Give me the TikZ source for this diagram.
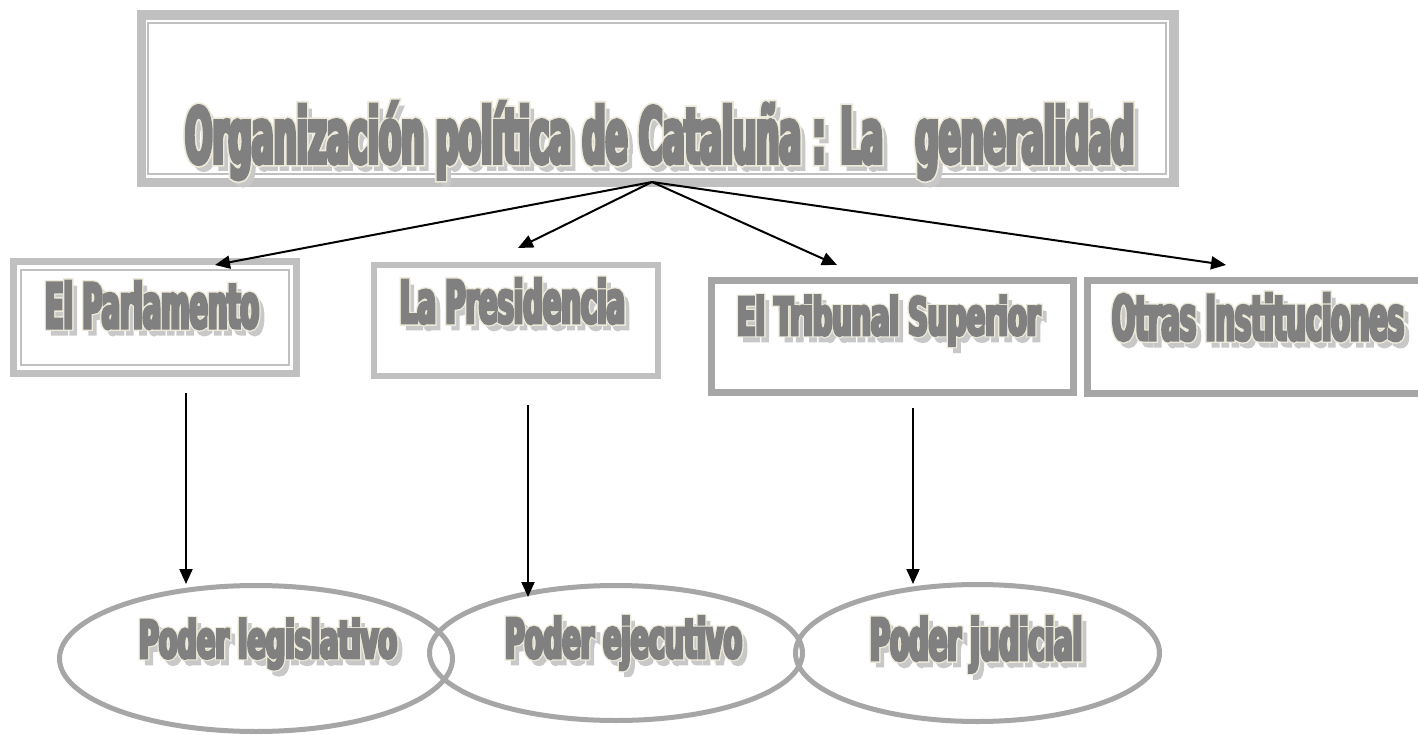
\documentclass[tikz,border=0pt]{standalone}
\usepackage{fontspec}
\setmainfont{Liberation Sans}
\newfontfamily\waMain[FakeStretch=0.45,FakeBold=5]{DejaVu Sans Bold}
\newfontfamily\waLine[FakeStretch=0.45,FakeBold=9.5]{DejaVu Sans Bold}
\usetikzlibrary{arrows.meta,shapes.geometric,calc}
\definecolor{bandA}{HTML}{C0C0C0}
\definecolor{bandB}{HTML}{A6A6A6}
\definecolor{txtmain}{HTML}{808080}
\definecolor{txtline}{HTML}{EEEADA}
\definecolor{txtshadow}{HTML}{C8C8C8}
\newcommand\waText[3]{\resizebox{#1pt}{#2pt}{\raisebox{0pt}[\fontcharht\font`H][0pt]{#3}}}
% #1 name, #2 x, #3 baseline y, #4 width, #5 cap height, #6 text
\newcommand\wordart[6]{%
  \node[wa,font=\waMain,text=txtshadow] (#1-s) at ({#2+5},{#3+6}) {\waText{#4}{#5}{#6}};%
  \node[wa,font=\waLine,text=txtline] (#1-o) at (#2,#3) {\waText{#4}{#5}{#6}};%
  \node[wa,font=\waMain,text=txtmain] (#1) at (#2,#3) {\waText{#4}{#5}{#6}};%
}
\begin{document}
\begin{tikzpicture}[x=1pt,y=-1pt,
  wa/.style={inner sep=0pt,outer sep=0pt,anchor=base west},
  frame/.style={draw,rectangle,inner sep=0pt,outer sep=0pt},
  oval/.style={draw=bandB,ellipse,line width=5,inner sep=0pt},
  arr/.style={black,line width=2,-{Triangle[length=15pt,width=13pt]}}]
\useasboundingbox[fill=white] (0,0) rectangle (1418,735);

% title frame
\node[frame,draw=bandA,line width=9.5,minimum width=1032.5,minimum height=167.5] (title) at (657.75,98.75) {};
\draw[bandA,line width=2] ($(title.north west)+(6.5,8)$) rectangle ($(title.south east)+(-8,-8.5)$);

% boxes
\node[frame,draw=bandA,line width=7,minimum width=283.5,minimum height=112] (parl) at (154.75,317.5) {};
\draw[bandA,line width=2] ($(parl.north west)+(8,8.5)$) rectangle ($(parl.south east)+(-7.5,-8.5)$);
\node[frame,draw=bandA,line width=6,minimum width=284,minimum height=111] (pres) at (516,320.5) {};
\node[frame,draw=bandB,line width=7,minimum width=362,minimum height=112] (trib) at (892.5,336.5) {};
\node[frame,draw=bandB,line width=7,minimum width=342.5,minimum height=113] (otras) at (1258.75,337) {};

% ellipses
\node[oval,minimum width=393,minimum height=146] (legis) at (256,658.5) {};
\node[oval,minimum width=373,minimum height=135] (ejec) at (616,653) {};
\node[oval,minimum width=364,minimum height=137] (judic) at (977.5,653) {};

% texts
\wordart{ttitle}{185}{163}{949}{56}{Organización política de Cataluña : La\hspace{0.45em}generalidad}
\wordart{tparl}{45}{328}{214}{45}{El Parlamento}
\wordart{tpres}{400}{323}{225}{43}{La Presidencia}
\wordart{ttrib}{737}{335}{303}{38}{El Tribunal Superior}
\wordart{totras}{1112}{340}{292}{45}{Otras Instituciones}
\wordart{tlegis}{139}{658}{258}{38}{Poder legislativo}
\wordart{tejec}{505}{658}{237}{40}{Poder ejecutivo}
\wordart{tjudic}{870}{660}{212}{42}{Poder judicial}

% connectors
\coordinate (src) at (652,182);
\coordinate (parlin) at (215,265);
\coordinate (presin) at (518,248);
\coordinate (tribin) at (837,265);
\coordinate (otrasin) at (1226,265);
\draw[arr] (src) -- (parlin);
\draw[arr] (src) -- (presin);
\draw[arr] (src) -- (tribin);
\draw[arr] (src) -- (otrasin);

\coordinate (parlout) at (186,393);
\coordinate (legisin) at (186,584);
\coordinate (presout) at (528,405);
\coordinate (ejecin) at (528,597);
\coordinate (tribout) at (913,408);
\coordinate (judicin) at (913,584);
\draw[arr] (parlout) -- (legisin);
\draw[arr] (presout) -- (ejecin);
\draw[arr] (tribout) -- (judicin);
\end{tikzpicture}
\end{document}
